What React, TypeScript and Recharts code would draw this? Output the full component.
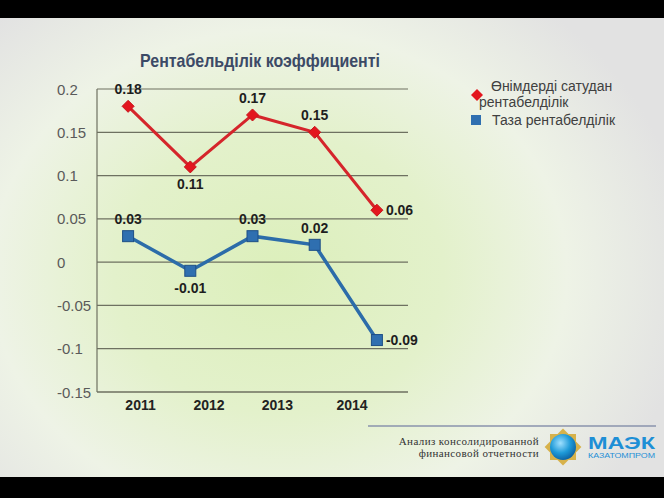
import React from 'react';
import { LineChart, Line, XAxis, YAxis, CartesianGrid, LabelList, Legend } from 'recharts';

// Each point sits in the middle of its own slot on the horizontal axis
const slots = [0.5, 1.5, 2.5, 3.5, 4.5];
const salesReturn = [0.18, 0.11, 0.17, 0.15, 0.06];
const netReturn = [0.03, -0.01, 0.03, 0.02, -0.09];
const labelSides = ['top', 'bottom', 'top', 'top', 'right'];

const years = ['2011', '2012', '2013', '2014'];
const yearTicks = [0.7, 1.8, 2.9, 4.1];
const yTicks = [-0.15, -0.1, -0.05, 0, 0.05, 0.1, 0.15, 0.2];

const seriesNames = ['Өнімдерді сатудан рентабелділік', 'Таза рентабелділік'];
const title = 'Рентабельділік коэффициенті';
const footerLines = ['Анализ консолидированной', 'финансовой отчетности'];

const chartData = slots.map((slot, i) => ({
  slot,
  sales: salesReturn[i],
  net: netReturn[i],
}));

const FONT = '"Liberation Sans", Arial, sans-serif';
const RED = '#d5252b';
const BLUE = '#2c6ca9';
const GRID = '#6e7161';
const Y_LABEL_X = 57;

const RedDot = (props: any) => {
  const { cx, cy } = props;
  if (cx == null || cy == null) return null;
  const r = 6;
  return (
    <polygon
      points={`${cx},${cy - r} ${cx + r},${cy} ${cx},${cy + r} ${cx - r},${cy}`}
      fill="#e3161e"
      stroke="#c8141b"
      strokeWidth={1}
    />
  );
};

const BlueDot = (props: any) => {
  const { cx, cy } = props;
  if (cx == null || cy == null) return null;
  const s = 11;
  return (
    <rect x={cx - s / 2} y={cy - s / 2} width={s} height={s} fill="#2f6fb0" stroke="#1e4f86" strokeWidth={1} />
  );
};

const PointLabel = (props: any) => {
  const { x, y, value, index } = props;
  const side = labelSides[index];
  let tx = x;
  let ty = y;
  let anchor: 'middle' | 'start' = 'middle';
  if (side === 'top') ty = y - 17;
  else if (side === 'bottom') ty = y + 17;
  else {
    tx = x + 9;
    anchor = 'start';
  }
  return (
    <text
      x={tx}
      y={ty}
      textAnchor={anchor}
      dominantBaseline="central"
      fontFamily={FONT}
      fontSize={14}
      fontWeight="bold"
      fill="#1e1e1e"
    >
      {value}
    </text>
  );
};

const YTick = (props: any) => {
  const { y, payload } = props;
  return (
    <text x={Y_LABEL_X} y={y} dominantBaseline="central" fontFamily={FONT} fontSize={15} fill="#5a5a5a">
      {String(payload.value)}
    </text>
  );
};

const XTick = (props: any) => {
  const { x, y, payload } = props;
  const label = years[yearTicks.indexOf(payload.value)];
  return (
    <text
      x={x}
      y={y + 7}
      textAnchor="middle"
      dominantBaseline="central"
      fontFamily={FONT}
      fontSize={14}
      fontWeight="bold"
      fill="#222"
    >
      {label}
    </text>
  );
};

const LegendBox = () => (
  <div style={{ fontFamily: FONT, fontSize: 14, color: '#404040', lineHeight: '16px', position: 'relative' }}>
    <svg width={14} height={14} style={{ position: 'absolute', left: 0, top: 10 }}>
      <polygon points="7,1 13,7 7,13 1,7" fill="#e3161e" />
    </svg>
    <div style={{ marginLeft: 9, textIndent: 12, width: 170 }}>{seriesNames[0]}</div>
    <div style={{ position: 'relative', marginTop: 2 }}>
      <svg width={12} height={12} style={{ position: 'absolute', left: 0, top: 2 }}>
        <rect x={1} y={1} width={10} height={10} fill="#2f6fb0" />
      </svg>
      <div style={{ marginLeft: 22 }}>{seriesNames[1]}</div>
    </div>
  </div>
);

const Logo = () => (
  <svg width={664} height={60} style={{ position: 'absolute', left: 0, top: 418 }}>
    <defs>
      <radialGradient id="globe" cx="40%" cy="35%" r="70%">
        <stop offset="0%" stopColor="#9fe0ff" />
        <stop offset="55%" stopColor="#1e9ad8" />
        <stop offset="100%" stopColor="#0b5d9e" />
      </radialGradient>
    </defs>
    <line x1={368} y1={8} x2={656} y2={8} stroke="#8a93ad" strokeWidth={1.5} />
    {footerLines.map((t, i) => (
      <text
        key={t}
        x={539}
        y={27 + i * 12}
        textAnchor="end"
        fontFamily='"Liberation Serif", "Times New Roman", serif'
        fontSize={11}
        letterSpacing={0.4}
        fill="#333"
      >
        {t}
      </text>
    ))}
    <g transform="translate(563,29)">
      <rect x={-13} y={-13} width={26} height={26} fill="#d7b24a" />
      <rect x={-13} y={-13} width={26} height={26} fill="#d7b24a" transform="rotate(45)" />
      <circle r={13} fill="url(#globe)" />
    </g>
    <text
      x={588}
      y={31}
      fontFamily={FONT}
      fontSize={16}
      fontWeight="bold"
      fill="#1e8fd6"
      textLength={67}
      lengthAdjust="spacingAndGlyphs"
    >
      МАЭК
    </text>
    <text
      x={588}
      y={40}
      fontFamily={FONT}
      fontSize={7.5}
      fill="#1e8fd6"
      textLength={67}
      lengthAdjust="spacingAndGlyphs"
    >
      КАЗАТОМПРОМ
    </text>
  </svg>
);

export default function App() {
  return (
    <div
      style={{
        position: 'absolute',
        left: 0,
        top: 0,
        width: 664,
        height: 498,
        overflow: 'hidden',
        background:
          'radial-gradient(ellipse 62% 70% at 42% 55%, #dcefbb 0%, #e3f1cb 40%, #eef3e6 70%, #e2e2e2 100%)',
      }}
    >
      <svg width={664} height={80} style={{ position: 'absolute', left: 0, top: 0 }}>
        <text
          x={260}
          y={67}
          textAnchor="middle"
          fontFamily={FONT}
          fontSize={19}
          fontWeight="bold"
          fill="#3c4a66"
          textLength={240}
          lengthAdjust="spacingAndGlyphs"
        >
          {title}
        </text>
      </svg>

      <LineChart
        width={664}
        height={498}
        data={chartData}
        margin={{ top: 89, right: 256, left: 57, bottom: 76 }}
        style={{ position: 'absolute', left: 0, top: 0 }}
      >
        <CartesianGrid vertical={false} stroke={GRID} strokeWidth={1.2} />
        <XAxis
          type="number"
          dataKey="slot"
          domain={[0, 5]}
          ticks={yearTicks}
          tick={<XTick />}
          tickLine={false}
          tickSize={0}
          tickMargin={6}
          height={30}
          axisLine={{ stroke: GRID, strokeWidth: 1.2 }}
        />
        <YAxis
          type="number"
          domain={[-0.15, 0.2]}
          ticks={yTicks}
          tick={<YTick />}
          tickLine={false}
          width={40}
          axisLine={{ stroke: GRID, strokeWidth: 1.2 }}
        />
        <Legend
          layout="vertical"
          align="center"
          verticalAlign="middle"
          content={<LegendBox />}
          wrapperStyle={{ left: 470, top: 78, width: 190 }}
        />
        <Line
          dataKey="sales"
          name={seriesNames[0]}
          stroke={RED}
          strokeWidth={3}
          dot={<RedDot />}
          isAnimationActive={false}
        >
          <LabelList dataKey="sales" content={<PointLabel />} />
        </Line>
        <Line
          dataKey="net"
          name={seriesNames[1]}
          stroke={BLUE}
          strokeWidth={3.5}
          dot={<BlueDot />}
          isAnimationActive={false}
        >
          <LabelList dataKey="net" content={<PointLabel />} />
        </Line>
      </LineChart>

      <Logo />

      <div style={{ position: 'absolute', left: 0, top: 0, width: 664, height: 18, background: '#000' }} />
      <div style={{ position: 'absolute', left: 0, top: 477, width: 664, height: 21, background: '#000' }} />
    </div>
  );
}
